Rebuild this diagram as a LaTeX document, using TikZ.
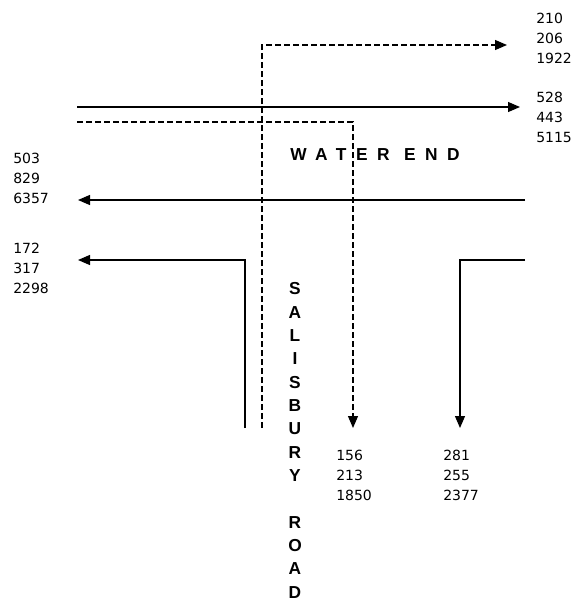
\documentclass[tikz,border=0pt]{standalone}
\usepackage{fontspec}
\setmainfont{DejaVu Sans}
\newfontfamily\roadfont{Liberation Sans}
\usetikzlibrary{arrows.meta}
\tikzstyle{count} = [align=left, inner sep=0pt, anchor=base west, font=\fontsize{10.5}{15}\selectfont]
\tikzstyle{road} = [inner sep=0pt, font=\roadfont\bfseries\fontsize{13}{17.5}\selectfont]
\tikzstyle{flow} = [line width=0.9pt, -{Triangle[length=9pt,width=7.5pt]}]
\tikzstyle{turn} = [flow, dash pattern=on 4.5pt off 2.25pt]

\begin{document}
\begin{tikzpicture}[x=0.75pt, y=-0.75pt]
            \useasboundingbox (0,0) rectangle (577,600);

            % road names (base = last line)
            \node (WE) [road, anchor=base west] at (290,160) {\addfontfeature{LetterSpace=55}WATER END};
            \node (SR) [road, align=center, anchor=base] at (295,598) {S\\A\\L\\I\\S\\B\\U\\R\\Y\\[17.5pt]R\\O\\A\\D};

            % end points of the flows
            \coordinate (A1) at (77,107);   \coordinate (A2) at (520,107);
            \coordinate (B1) at (77,122);   \coordinate (B2) at (353,122);   \coordinate (B3) at (353,428);
            \coordinate (C1) at (262,428);  \coordinate (C2) at (262,45);    \coordinate (C3) at (507,45);
            \coordinate (D1) at (525,200);  \coordinate (D2) at (78,200);
            \coordinate (E1) at (245,428);  \coordinate (E2) at (245,260);   \coordinate (E3) at (78,260);
            \coordinate (F1) at (525,260);  \coordinate (F2) at (460,260);   \coordinate (F3) at (460,428);

            \draw [flow] (A1) -- (A2);
            \draw [turn] (B1) -- (B2) -- (B3);
            \draw [turn] (C1) -- (C2) -- (C3);
            \draw [flow] (D1) -- (D2);
            \draw [flow] (E1) -- (E2) -- (E3);
            \draw [flow] (F1) -- (F2) -- (F3);

            % counts
            \node (nC) [count] at (536,63) {210\\206\\1922};
            \node (nA) [count] at (536,142) {528\\443\\5115};
            \node (nD) [count] at (13,203) {503\\829\\6357};
            \node (nE) [count] at (13,293) {172\\317\\2298};
            \node (nB) [count] at (336,500) {156\\213\\1850};
            \node (nF) [count] at (443,500) {281\\255\\2377};
        \end{tikzpicture}
\end{document}
